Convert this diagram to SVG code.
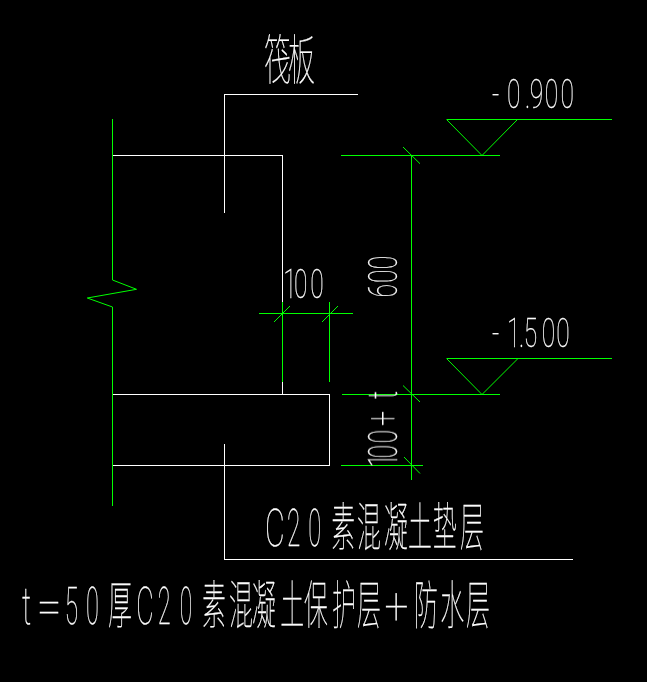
<svg xmlns="http://www.w3.org/2000/svg" width="647" height="682" viewBox="0 0 647 682">
<style>
.w{fill:none;stroke:#fff;stroke-width:1}
.g{fill:none;stroke:#0f0;stroke-width:1}
text{fill:#fff;stroke:#fff;stroke-width:.25;font-family:Roboto,"Noto Sans CJK SC",sans-serif;font-weight:100}
</style>
<rect width="647" height="682" fill="#000"/>
<g id="structure" shape-rendering="crispEdges">
<path class="w" d="M224.5 213V94.5H357.5"/>
<path class="w" d="M113 155.5H282.5V302M282.5 382V394"/>
<path class="w" d="M113 394.5H329.5V465.5H113"/>
<path class="w" d="M224.5 444V559.5H572.5"/>
</g>
<g id="connectors">
<path class="g" d="M112.5 119V280L136.5 289.3L87.3 298L112.5 307V506"/>
<g shape-rendering="crispEdges">
<path class="g" d="M341 155.5H500M446.5 119.5H611.5M411.5 155.5V480"/>
<path class="g" d="M342 394.5H500M446.5 358.5H611.5M341 465.5H423"/>
<path class="g" d="M259 313H353M282.5 302V382M329.5 302V382"/>
</g>
<path class="g" d="M446.5 119.5L482 155.5L517.5 119.5M446.5 358.5L482 394.5L518 358.5"/>
<path class="g" d="M403 147L420 163.7M403 385.5L420 402M404 457L420 473.5M274 322L290 306M322 322L338 306"/>
</g>
<g id="labels" opacity=".99">
<text transform="scale(.5 1)" x="528 576" y="80" font-size="54">筏板</text>
<text transform="translate(0 108) scale(.6 1)" x="820 845 875 883 908 934" font-size="41">-0.900</text>
<text transform="translate(0 347) scale(.6 1)" x="820 845 865 873 903 927" font-size="41">-1.500</text>
<text transform="translate(0 298) scale(.6 1)" x="472 490 517" font-size="41">100</text>
<text transform="translate(397 298) rotate(-90) scale(.6 1)" x="1 25 48" font-size="41">600</text>
<text transform="translate(397 466) rotate(-90) scale(.6 1)" x="-2 13 38 67 112" font-size="41">100<tspan font-size="44">+</tspan>t</text>
<text transform="translate(0 546) scale(.46 1)" font-size="52"><tspan x="576" textLength="43" lengthAdjust="spacingAndGlyphs">C</tspan><tspan x="624" textLength="29" lengthAdjust="spacingAndGlyphs">2</tspan><tspan x="670" textLength="28" lengthAdjust="spacingAndGlyphs">0</tspan><tspan x="720 776 835 887 941 1000">素混凝土垫层</tspan></text>
<text transform="translate(0 624) scale(.46 1)" font-size="52"><tspan x="48" textLength="20" lengthAdjust="spacingAndGlyphs">t</tspan><tspan x="80" textLength="54" lengthAdjust="spacingAndGlyphs">=</tspan><tspan x="141" textLength="29" lengthAdjust="spacingAndGlyphs">5</tspan><tspan x="187" textLength="28" lengthAdjust="spacingAndGlyphs">0</tspan><tspan x="235">厚</tspan><tspan x="296" textLength="38" lengthAdjust="spacingAndGlyphs">C</tspan><tspan x="343" textLength="28" lengthAdjust="spacingAndGlyphs">2</tspan><tspan x="391" textLength="27" lengthAdjust="spacingAndGlyphs">0</tspan><tspan x="439 498 548 609 661 722 776">素混凝土保护层</tspan><tspan x="836" textLength="52" lengthAdjust="spacingAndGlyphs">+</tspan><tspan x="900 957 1013">防水层</tspan></text>
</g>
</svg>
